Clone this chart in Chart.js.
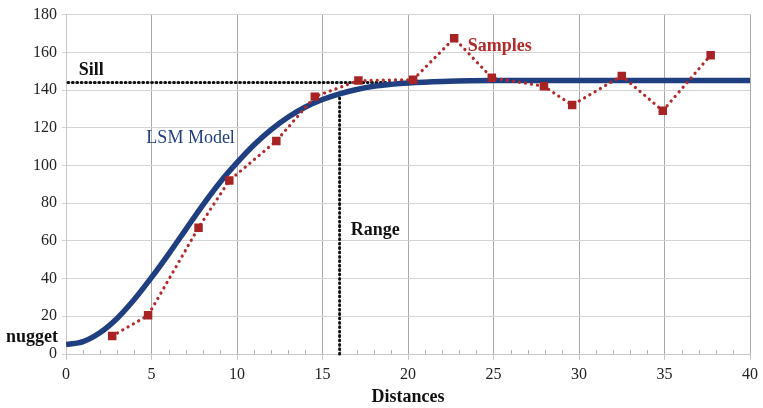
<!DOCTYPE html>
<html>
<head>
<meta charset="utf-8">
<script src="https://cdn.jsdelivr.net/npm/chart.js@4"></script>
<style>
  html, body { margin: 0; padding: 0; background: #fff; }
  #wrap { width: 763px; height: 408px; }
</style>
</head>
<body>
<div id="wrap"><canvas id="variogram"></canvas></div>
<script>
// sample semivariances
const sampleDist = [2.7, 4.8, 7.75, 9.55, 12.3, 14.55, 17.1, 20.3, 22.7, 24.9, 27.95, 29.6, 32.5, 34.9, 37.7];
const sampleGamma = [9.5, 20.5, 67, 92, 113, 136.5, 145, 145.5, 167.5, 146.5, 142, 132, 147.5, 129, 158.5];

// fitted LSM model curve, read at each unit distance
const modelDist = [0, 1, 2, 3, 4, 5, 6, 7, 8, 9, 10, 11, 12, 13, 14, 15, 16, 17, 18, 19, 20,
  22, 25, 28, 31, 34, 37, 40];
const modelGamma = [5, 6.6, 11.4, 19, 29, 40.6, 53, 66, 79, 91, 101.5, 111, 119, 125.7, 131, 135, 138, 140.3, 142, 143, 143.7,
  144.5, 145, 145, 145, 145, 145, 145];

const xTicks = [0, 5, 10, 15, 20, 25, 30, 35, 40];
const yTicks = [0, 20, 40, 60, 80, 100, 120, 140, 160, 180];

const sill = 144;
const sillEnd = 19;
const range = 16;
const rangeTop = 138.5;
const nugget = 9;

const serif = '"Liberation Serif", "Times New Roman", serif';

// dotted guides, minor ticks and text labels
const annotations = {
  id: 'annotations',
  beforeDatasetsDraw(chart) {
    const { ctx, chartArea, scales: { x, y } } = chart;
    ctx.save();
    // minor ticks along the bottom
    ctx.strokeStyle = '#b0b0b0';
    ctx.lineWidth = 1;
    for (let d = 1; d < 40; d++) {
      if (d % 5 === 0) continue;
      const px = Math.round(x.getPixelForValue(d)) + 0.5;
      ctx.beginPath();
      ctx.moveTo(px, chartArea.bottom);
      ctx.lineTo(px, chartArea.bottom - 4);
      ctx.stroke();
    }
    // sill and range
    ctx.strokeStyle = '#111';
    ctx.lineWidth = 3;
    ctx.lineCap = 'round';
    ctx.setLineDash([0.8, 3.6]);
    ctx.beginPath();
    ctx.moveTo(x.getPixelForValue(0) + 2, y.getPixelForValue(sill));
    ctx.lineTo(x.getPixelForValue(sillEnd), y.getPixelForValue(sill));
    ctx.moveTo(x.getPixelForValue(range), y.getPixelForValue(0));
    ctx.lineTo(x.getPixelForValue(range), y.getPixelForValue(rangeTop));
    ctx.stroke();
    ctx.restore();
  },
  afterDatasetsDraw(chart) {
    const { ctx, chartArea, scales: { x, y } } = chart;
    ctx.save();
    ctx.textBaseline = 'middle';
    ctx.textAlign = 'left';
    ctx.font = 'bold 18px ' + serif;
    ctx.fillStyle = '#111';
    ctx.fillText('Sill', x.getPixelForValue(0.75), y.getPixelForValue(150.5));
    ctx.fillText('Range', x.getPixelForValue(16.65), y.getPixelForValue(65.5));
    ctx.textAlign = 'right';
    ctx.fillText('nugget', chartArea.left - 8, y.getPixelForValue(nugget));
    ctx.textAlign = 'left';
    ctx.fillStyle = '#b22b2b';
    ctx.fillText('Samples', x.getPixelForValue(23.5), y.getPixelForValue(163));
    ctx.font = '18px ' + serif;
    ctx.fillStyle = '#1f3f80';
    ctx.fillText('LSM Model', x.getPixelForValue(4.7), y.getPixelForValue(114.5));
    ctx.restore();
  }
};

new Chart(document.getElementById('variogram'), {
  type: 'scatter',
  data: {
    datasets: [
      {
        label: 'Samples',
        data: sampleDist.map((d, i) => ({ x: d, y: sampleGamma[i] })),
        showLine: true,
        borderColor: '#b22b2b',
        backgroundColor: '#a82424',
        borderWidth: 3.2,
        borderDash: [0.1, 6],
        borderCapStyle: 'round',
        pointStyle: 'rect',
        pointRadius: 6,
        pointBorderWidth: 0,
        order: 0
      },
      {
        label: 'LSM Model',
        data: modelDist.map((d, i) => ({ x: d, y: modelGamma[i] })),
        showLine: true,
        borderColor: '#1f3f80',
        borderWidth: 5.5,
        cubicInterpolationMode: 'monotone',
        pointRadius: 0,
        order: 1
      }
    ]
  },
  options: {
    responsive: true,
    maintainAspectRatio: false,
    animation: false,
    layout: { padding: { left: 0, right: 8, top: 10, bottom: 0 } },
    plugins: {
      legend: { display: false },
      tooltip: { enabled: false }
    },
    scales: {
      x: {
        type: 'linear',
        min: 0,
        max: 40,
        afterBuildTicks: s => { s.ticks = xTicks.map(v => ({ value: v })); },
        grid: { color: '#a8a8a8', lineWidth: 1, tickLength: 6, tickColor: '#c8c8c8' },
        border: { color: '#c8c8c8' },
        ticks: { color: '#222', font: { family: serif, size: 16 }, padding: 5, maxRotation: 0 },
        title: { display: true, text: 'Distances', color: '#111', font: { family: serif, size: 18, weight: 'bold' }, padding: { top: 1, bottom: 0 } },
        afterFit: s => { s.height = 54; }
      },
      y: {
        type: 'linear',
        min: 0,
        max: 180,
        afterBuildTicks: s => { s.ticks = yTicks.map(v => ({ value: v })); },
        grid: { color: '#d4d4d4', lineWidth: 1, tickLength: 4, tickColor: '#d4d4d4' },
        border: { color: '#c8c8c8' },
        ticks: { color: '#222', font: { family: serif, size: 16 }, padding: 5 },
        afterFit: s => { s.width = 66; }
      }
    }
  },
  plugins: [annotations]
});
</script>
</body>
</html>
